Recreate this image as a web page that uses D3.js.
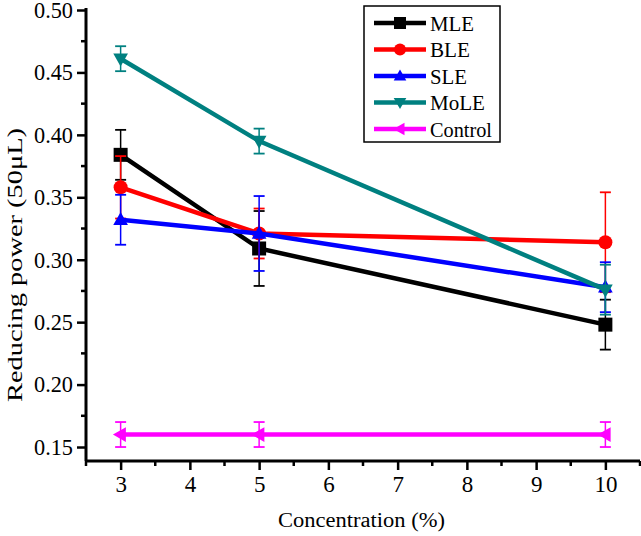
<!DOCTYPE html>
<html><head><meta charset="utf-8">
<script src="https://cdn.jsdelivr.net/npm/d3@7"></script>
<style>body{margin:0;background:#fff}svg{display:block}</style>
</head><body>
<script>
const concentrations = [3, 5, 10];
const seriesNames = ["MLE", "BLE", "SLE", "MoLE", "Control"];
const seriesColors = ["#000000", "#ff0000", "#0000ff", "#008080", "#ff00ff"];
const seriesSymbols = ["square", "circle", "triUp", "triDown", "triLeft"];
const MLE = [0.384, 0.309, 0.248];
const MLE_err = [0.020, 0.030, 0.020];
const BLE = [0.358, 0.321, 0.314];
const BLE_err = [0.025, 0.020, 0.040];
const SLE = [0.332, 0.321, 0.278];
const SLE_err = [0.020, 0.030, 0.020];
const MoLE = [0.461, 0.395, 0.276];
const MoLE_err = [0.010, 0.010, 0.020];
const Control = [0.160, 0.160, 0.160];
const Control_err = [0.010, 0.010, 0.010];
const yTicks = [0.15, 0.20, 0.25, 0.30, 0.35, 0.40, 0.45, 0.50];
const xTicks = [3, 4, 5, 6, 7, 8, 9, 10];

const values = [MLE, BLE, SLE, MoLE, Control];
const errs = [MLE_err, BLE_err, SLE_err, MoLE_err, Control_err];
const FONT = "'Liberation Serif', 'DejaVu Serif', serif";

const W = 641, H = 536;
const svg = d3.select("body").append("svg").attr("width", W).attr("height", H);
const x = d3.scaleLinear().domain([2.5, 10.5]).range([86, 640]);
const y = d3.scaleLinear().domain([0.1388, 0.50]).range([461, 10]);

// minor ticks
const g = svg.append("g");
d3.range(2.5, 10.6, 0.5).forEach(v => {
  if (Math.abs(v - Math.round(v)) > 0.01) g.append("line").attr("x1", x(v)).attr("x2", x(v)).attr("y1", 461).attr("y2", 466).attr("stroke", "#000").attr("stroke-width", 2.5);
});
d3.range(0.175, 0.5, 0.05).forEach(v => {
  g.append("line").attr("x1", 86).attr("x2", 81).attr("y1", y(v)).attr("y2", y(v)).attr("stroke", "#000").attr("stroke-width", 2.5);
});

const xAxis = d3.axisBottom(x).tickValues(xTicks).tickFormat(d3.format("d")).tickSize(9).tickPadding(6).tickSizeOuter(0);
const yAxis = d3.axisLeft(y).tickValues(yTicks).tickFormat(d3.format(".2f")).tickSize(9).tickPadding(4).tickSizeOuter(0);
const gx = svg.append("g").attr("transform", "translate(0,461)").call(xAxis);
const gy = svg.append("g").attr("transform", "translate(86,0)").call(yAxis);
[gx, gy].forEach(a => {
  a.attr("font-family", FONT).attr("font-size", 23);
  a.select(".domain").attr("stroke", "#000").attr("stroke-width", 3);
  a.selectAll(".tick line").attr("stroke", "#000").attr("stroke-width", 2.5);
  a.selectAll("text").attr("fill", "#000").attr("font-family", FONT).attr("font-size", 23);
});
gy.selectAll("text").attr("textLength", 39).attr("lengthAdjust", "spacingAndGlyphs");
gy.select(".domain").attr("d", `M0,${y(0.5)-2}V461`);
gx.select(".domain").attr("d", `M86,0H640`);

svg.append("text").attr("x", 361.5).attr("y", 527).attr("text-anchor", "middle")
  .attr("font-family", FONT).attr("font-size", 20)
  .attr("textLength", 167).attr("lengthAdjust", "spacingAndGlyphs").text("Concentration (%)");
svg.append("text").attr("transform", "translate(22,265) rotate(-90)").attr("text-anchor", "middle")
  .attr("font-family", FONT).attr("font-size", 21)
  .attr("textLength", 274).attr("lengthAdjust", "spacingAndGlyphs").text("Reducing power (50μL)");

function symbolPath(type, s) {
  const r = s / 2;
  switch (type) {
    case "square": return `M${-r},${-r}H${r}V${r}H${-r}Z`;
    case "circle": return `M${r},0A${r},${r} 0 1,1 ${-r},0A${r},${r} 0 1,1 ${r},0Z`;
    case "triUp": return `M0,${-r*1.1}L${r*1.05},${r*0.75}L${-r*1.05},${r*0.75}Z`;
    case "triDown": return `M0,${r*1.1}L${r*1.05},${-r*0.75}L${-r*1.05},${-r*0.75}Z`;
    case "triLeft": return `M${-r*1.1},0L${r*0.75},${-r*1.05}L${r*0.75},${r*1.05}Z`;
  }
}

const line = d3.line().x((d, i) => x(concentrations[i])).y(d => y(d));
values.forEach((vals, si) => {
  const c = seriesColors[si];
  const sg = svg.append("g");
  vals.forEach((v, i) => {
    const cx = x(concentrations[i]), e = errs[si][i];
    sg.append("line").attr("x1", cx).attr("x2", cx).attr("y1", y(v + e)).attr("y2", y(v - e)).attr("stroke", c).attr("stroke-width", 1.5);
    [v + e, v - e].forEach(t => sg.append("line").attr("x1", cx - 5.5).attr("x2", cx + 5.5).attr("y1", y(t)).attr("y2", y(t)).attr("stroke", c).attr("stroke-width", 1.8));
  });
  sg.append("path").attr("d", line(vals)).attr("fill", "none").attr("stroke", c).attr("stroke-width", 4.5);
  vals.forEach((v, i) => {
    sg.append("path").attr("transform", `translate(${x(concentrations[i])},${y(v)})`).attr("d", symbolPath(seriesSymbols[si], 14)).attr("fill", c);
  });
});

// legend
const lg = svg.append("g");
lg.append("rect").attr("x", 364).attr("y", 6).attr("width", 136).attr("height", 136).attr("fill", "#fff").attr("stroke", "#000").attr("stroke-width", 1.5);
const legendTextW = [44, 40, 37, 55, 62];
seriesNames.forEach((n, i) => {
  const ly = 23 + i * 26.5;
  lg.append("line").attr("x1", 374).attr("x2", 426).attr("y1", ly).attr("y2", ly).attr("stroke", seriesColors[i]).attr("stroke-width", 4.5);
  lg.append("path").attr("transform", `translate(400,${ly})`).attr("d", symbolPath(seriesSymbols[i], 12)).attr("fill", seriesColors[i]);
  lg.append("text").attr("x", 430).attr("y", ly + 7.5).attr("font-family", FONT).attr("font-size", 22)
    .attr("textLength", legendTextW[i]).attr("lengthAdjust", "spacingAndGlyphs").text(n);
});
</script>
</body></html>
